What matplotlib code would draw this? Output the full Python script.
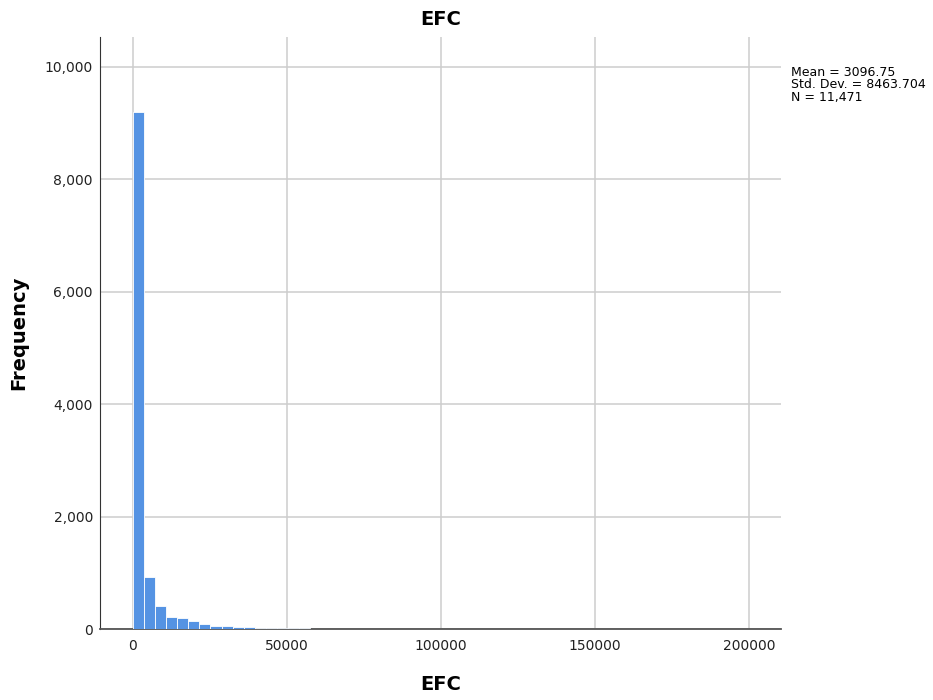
import numpy as np
import matplotlib.pyplot as plt

# bin width and frequency per bin
bin_width = 3600
counts = [9200, 925, 409, 213, 190, 142, 89, 53, 48, 30, 28, 25, 22,
          18, 14, 11, 8, 6]
stats_text = "Mean = 3096.75\nStd. Dev. = 8463.704\nN = 11,471"

x_ticks = [0, 50000, 100000, 150000, 200000]
y_ticks = [0, 2000, 4000, 6000, 8000, 10000]

fig = plt.figure(figsize=(9.33, 7), dpi=100)
ax = fig.add_axes([0.107, 0.1014, 0.73, 0.8457])

lefts = np.arange(len(counts)) * bin_width
ax.bar(lefts, counts, width=bin_width, align='edge', color='#5593e3',
       edgecolor='white', linewidth=0.6, zorder=3)

ax.set_xlim(-10700, 210400)
ax.set_ylim(0, 10530)
ax.set_xticks(x_ticks)
ax.set_xticklabels([str(v) for v in x_ticks])
ax.set_yticks(y_ticks)
ax.set_yticklabels([f"{v:,}" for v in y_ticks])
ax.grid(True, color='#cdcdcd', linewidth=1.1, zorder=0)
ax.tick_params(length=0, labelsize=10, colors='#222222', pad=5)
ax.tick_params(axis='x', pad=7)

for s in ['top', 'right']:
    ax.spines[s].set_visible(False)
ax.spines['left'].set_color('#333333')
ax.spines['bottom'].set_color('#555555')
ax.spines['bottom'].set_linewidth(1.3)

ax.set_title("EFC", fontsize=14, fontweight='bold', pad=9)
ax.set_xlabel("EFC", fontsize=14, fontweight='bold', labelpad=16)
ax.set_ylabel("Frequency", fontsize=14, fontweight='bold', labelpad=12)

fig.text(0.848, 0.906, stats_text, fontsize=9, va='top', ha='left',
         linespacing=0.95)

fig.savefig("out.png", dpi=100)
